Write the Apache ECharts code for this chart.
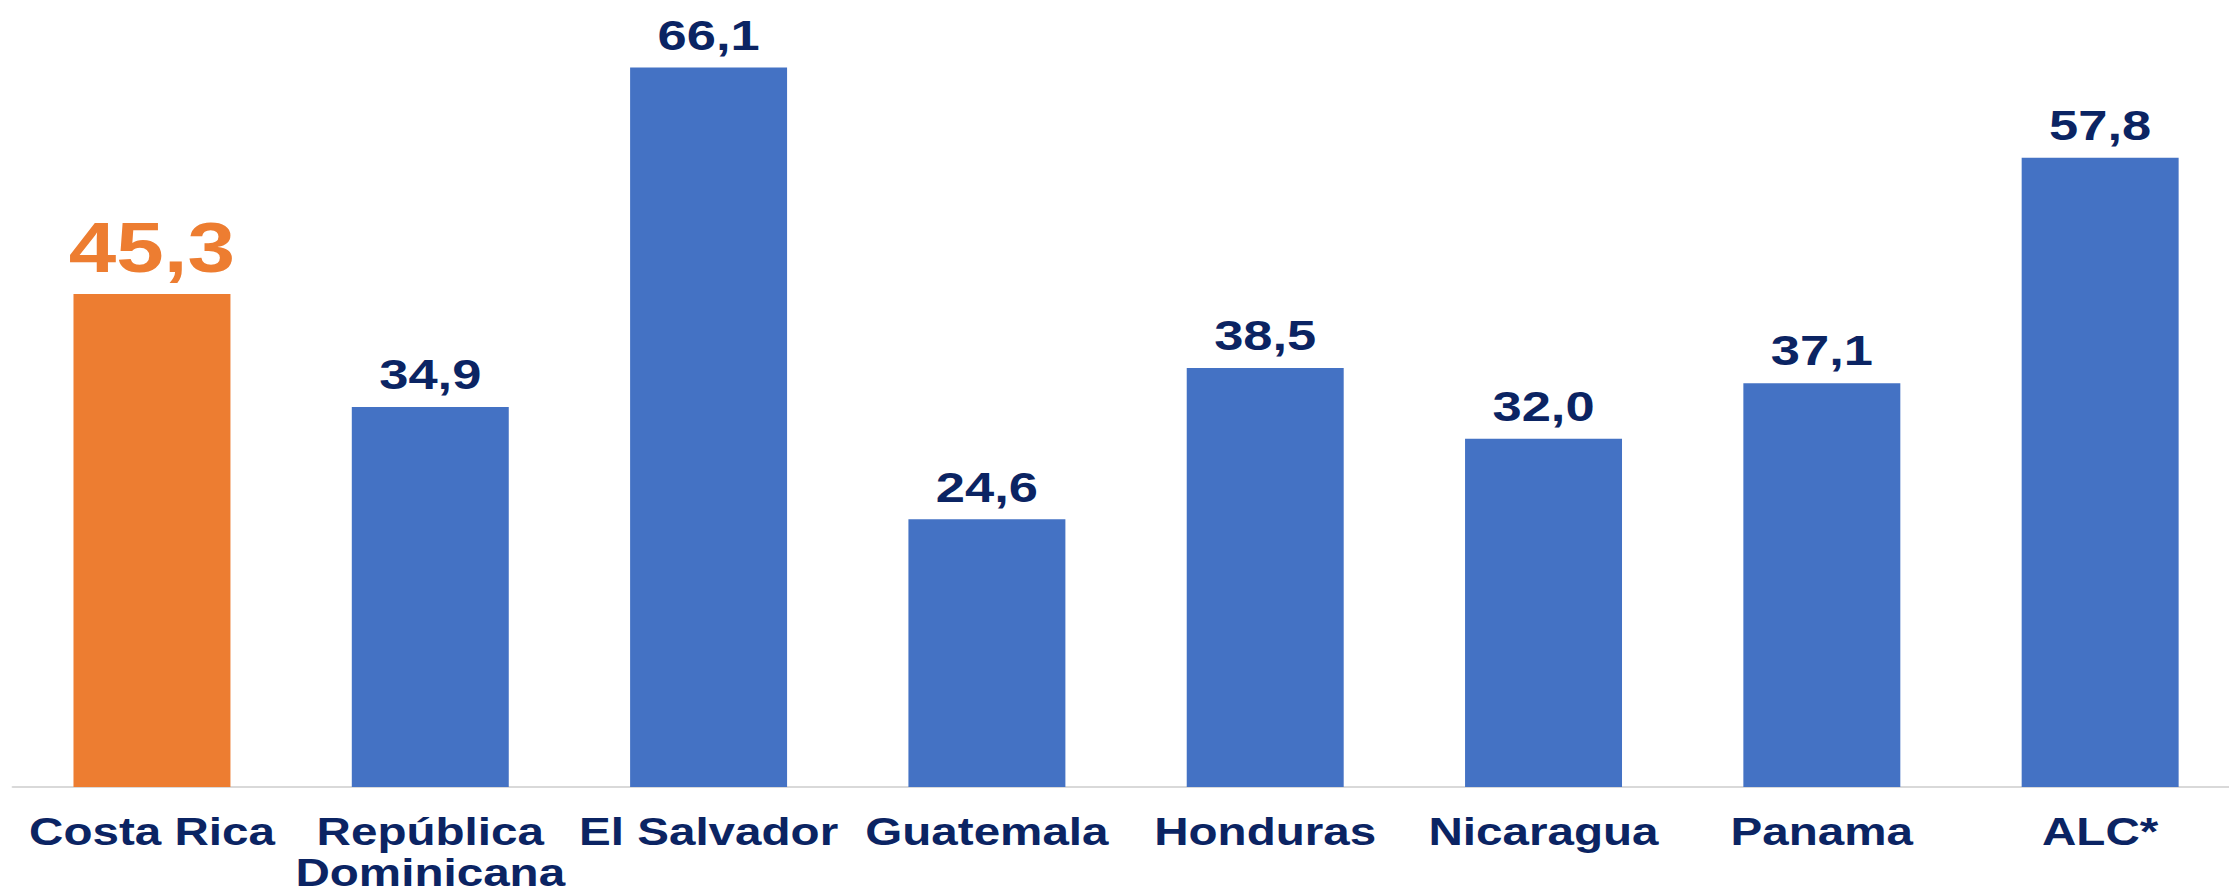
<!DOCTYPE html>
<html>
<head>
<meta charset="utf-8">
<script src="https://cdn.jsdelivr.net/npm/echarts@6/dist/echarts.min.js"></script>
<style>
  html, body { margin: 0; padding: 0; background: #ffffff; overflow: hidden; }
  #wrap { width: 2229px; height: 894px; overflow: hidden; }
  /* the chart is laid out narrower and widened, giving the broad lettering */
  #chart { width: 1840px; height: 894px; transform: scaleX(1.22); transform-origin: 0 0; }
</style>
</head>
<body>
<div id="wrap"><div id="chart"></div></div>
<script>
const categories = ['Costa Rica', 'República\nDominicana', 'El Salvador', 'Guatemala', 'Honduras', 'Nicaragua', 'Panama', 'ALC*'];
const values = [45.3, 34.9, 66.1, 24.6, 38.5, 32.0, 37.1, 57.8];
const highlighted = 'Costa Rica';

const FONT = '"Liberation Sans", Arial, sans-serif';
const NAVY = '#0b2463';

const fmt = v => v.toFixed(1).replace('.', ',');

const seriesData = values.map((v, i) => {
  const hot = categories[i] === highlighted;
  return {
    value: v,
    itemStyle: { color: hot ? '#ed7d31' : '#4472c4' },
    label: hot
      ? { color: '#ed7d31', fontSize: 70, lineHeight: 70 }
      : { color: NAVY, fontSize: 43, lineHeight: 43 }
  };
});

const chart = echarts.init(document.getElementById('chart'), null, { renderer: 'svg' });
chart.setOption({
  animation: false,
  backgroundColor: '#ffffff',
  grid: { left: 10.5, right: 4.5, top: 25, bottom: 107, outerBoundsMode: 'none', containLabel: false },
  xAxis: {
    type: 'category',
    data: categories,
    axisTick: { show: false },
    axisLine: { lineStyle: { color: '#d9d9d9', width: 2 } },
    axisLabel: {
      interval: 0,
      margin: 24,
      color: NAVY,
      fontFamily: FONT,
      fontWeight: 'bold',
      fontSize: 39,
      lineHeight: 41
    }
  },
  yAxis: {
    type: 'value',
    min: 0,
    max: 70,
    show: false,
    splitLine: { show: false }
  },
  series: [{
    type: 'bar',
    data: seriesData,
    barWidth: '56.4%',
    label: {
      show: true,
      position: 'top',
      distance: 11,
      fontFamily: FONT,
      fontWeight: 'bold',
      formatter: p => fmt(p.value)
    }
  }]
});
</script>
</body>
</html>
